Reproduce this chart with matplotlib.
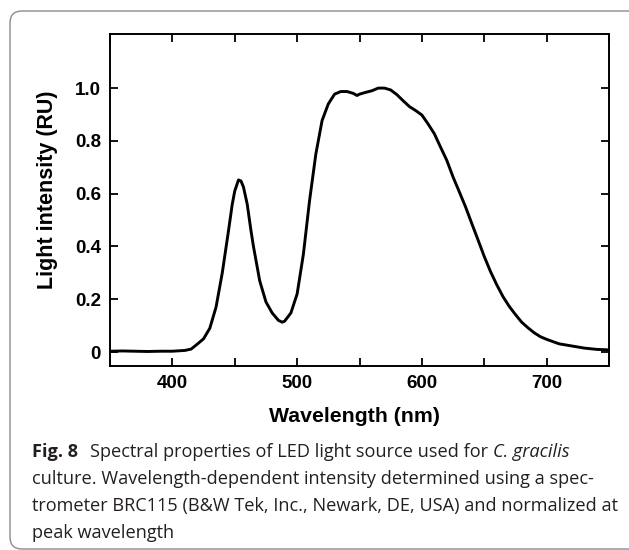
import matplotlib
matplotlib.use("Agg")
import matplotlib.pyplot as plt
from matplotlib.patches import FancyBboxPatch
from matplotlib.transforms import IdentityTransform

# spectrum (nm, relative units)
wavelength = [350, 360, 370, 380, 390, 400, 410, 415, 420, 425, 430, 435, 440, 445,
              448, 450, 453, 455, 457, 460, 463, 465, 470, 475, 480, 485, 488, 490,
              495, 500, 505, 510, 515, 520, 525, 530, 535, 540, 545, 548, 550, 555,
              560, 565, 570, 575, 580, 585, 590, 595, 600, 605, 610, 615, 620, 625,
              630, 635, 640, 645, 650, 655, 660, 665, 670, 675, 680, 685, 690, 695,
              700, 710, 720, 730, 740, 750]
intensity = [0.003, 0.004, 0.003, 0.002, 0.003, 0.003, 0.006, 0.011, 0.03, 0.05, 0.09,
             0.17, 0.30, 0.46, 0.56, 0.61, 0.652, 0.648, 0.625, 0.56, 0.46, 0.40, 0.27,
             0.19, 0.148, 0.12, 0.113, 0.117, 0.148, 0.22, 0.37, 0.575, 0.75, 0.877,
             0.94, 0.977, 0.987, 0.987, 0.98, 0.972, 0.977, 0.984, 0.99, 1.0, 1.0,
             0.993, 0.975, 0.952, 0.93, 0.915, 0.898, 0.864, 0.827, 0.776, 0.726,
             0.663, 0.607, 0.55, 0.487, 0.425, 0.362, 0.305, 0.255, 0.21, 0.173, 0.142,
             0.113, 0.092, 0.073, 0.058, 0.048, 0.031, 0.023, 0.015, 0.01, 0.008]

x_ticks = [400, 500, 600, 700]
x_minor = [350, 450, 550, 650, 750]
y_ticks = [0, 0.2, 0.4, 0.6, 0.8, 1.0]
y_labels = ["0", "0.2", "0.4", "0.6", "0.8", "1.0"]

caption_lines = [
    [("Fig. 8", "bold", "normal"),
     ("Spectral properties of LED light source used for", "normal", "normal"),
     ("C. gracilis", "normal", "italic")],
    [("culture. Wavelength-dependent intensity determined using a spec-", "normal", "normal")],
    [("trometer BRC115 (B&W Tek, Inc., Newark, DE, USA) and normalized at", "normal", "normal")],
    [("peak wavelength", "normal", "normal")],
]

W, H = 629, 550
fig = plt.figure(figsize=(W / 100, H / 100), dpi=100)

# rounded frame around figure + caption
frame = FancyBboxPatch((10, 1), 632, 538, boxstyle="round,pad=0,rounding_size=12",
                       transform=IdentityTransform(), facecolor="none",
                       edgecolor="#8c8c8c", linewidth=1.0)
fig.patches.append(frame)

ax = fig.add_axes([110 / W, 1 - 366 / H, 499 / W, 332 / H])
ax.plot(wavelength, intensity, color="black", linewidth=2.1, solid_joinstyle="round")

ax.set_xlim(350, 750)
ax.set_ylim(-0.053, 1.205)
ax.set_xticks(x_ticks)
ax.set_xticks(x_minor, minor=True)
ax.set_yticks(y_ticks)
ax.set_yticklabels(y_labels)

for lab in ax.get_xticklabels() + ax.get_yticklabels():
    lab.set_fontfamily("Liberation Sans")
    lab.set_fontweight("bold")
    lab.set_fontsize(13.5)

ax.tick_params(which="both", direction="in", top=True, right=True,
               length=5.5, width=1.3, pad=6.5, colors="black")
for sp in ax.spines.values():
    sp.set_linewidth(1.4)

ax.set_xlabel("Wavelength (nm)", fontfamily="Liberation Sans", fontweight="bold", fontsize=15.3)
ax.set_ylabel("Light intensity (RU)", fontfamily="Liberation Sans", fontweight="bold", fontsize=15.5)
ax.xaxis.set_label_coords((354 - 110) / 499, -(407 - 366) / 332)
ax.yaxis.set_label_coords(-(110 - 58) / 499, 0.53)

# caption, sized so the second line fills the text width
renderer = fig.canvas.get_renderer()
cap_family = "Open Sans"
probe = fig.text(0, 0, caption_lines[1][0][0], fontsize=10, family=cap_family)
size = 10 * 563 / probe.get_window_extent(renderer).width
probe.remove()

def text_width(s, weight="normal", style="normal"):
    t = fig.text(0, 0, s, fontsize=size, family=cap_family, fontweight=weight, fontstyle=style)
    w = t.get_window_extent(renderer).width
    t.remove()
    return w

space = text_width("x x") - text_width("xx")
baselines = [457, 484, 511, 538]
for runs, by in zip(caption_lines, baselines):
    x = 32
    for i, (s, weight, style) in enumerate(runs):
        t = fig.text(x / W, 1 - by / H, s, fontsize=size, family=cap_family,
                     fontweight=weight, fontstyle=style, va="baseline", ha="left",
                     color="#231f20")
        x += t.get_window_extent(renderer).width
        x += 12 if weight == "bold" else space

fig.savefig("out.png", dpi=100)
